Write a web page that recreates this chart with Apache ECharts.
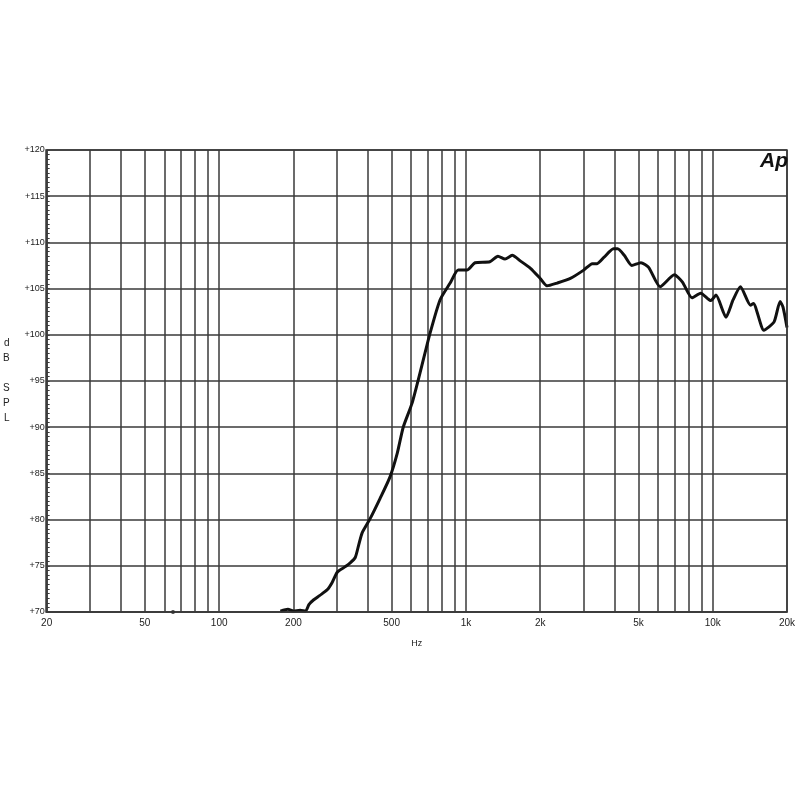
<!DOCTYPE html>
<html>
<head>
<meta charset="utf-8">
<script src="https://cdn.jsdelivr.net/npm/echarts@6/dist/echarts.min.js"></script>
<style>html,body{margin:0;padding:0;background:#fff;}#c{width:800px;height:800px;}</style>
</head>
<body>
<div id="c"></div>
<script>
// Frequency response (Hz -> dB SPL)
const freqHz = [177, 190, 200, 213, 224, 231, 241, 256, 274, 287, 301, 320, 339, 356, 368, 380, 409, 449, 492, 527, 557, 605, 652, 716, 786, 863, 930, 1010, 1089, 1250, 1348, 1440, 1540, 1660, 1826, 2000, 2130, 2340, 2650, 3000, 3250, 3400, 3630, 3960, 4120, 4380, 4700, 5120, 5500, 6120, 6990, 7540, 8240, 8940, 9830, 10310, 11320, 12100, 12950, 14220, 14620, 16120, 17730, 18750, 19270, 20000];
const splDb  = [70.1, 70.3, 70.1, 70.2, 70.1, 70.8, 71.3, 71.8, 72.4, 73.2, 74.3, 74.8, 75.3, 75.9, 77.3, 78.6, 80.1, 82.3, 84.6, 87.2, 90.0, 92.6, 95.9, 100.2, 103.8, 105.6, 107.0, 107.0, 107.8, 107.9, 108.5, 108.2, 108.6, 108.0, 107.2, 106.1, 105.3, 105.6, 106.1, 107.0, 107.7, 107.7, 108.4, 109.3, 109.3, 108.6, 107.5, 107.8, 107.3, 105.2, 106.5, 105.7, 104.0, 104.5, 103.7, 104.3, 101.9, 103.8, 105.2, 103.2, 103.4, 100.5, 101.4, 103.6, 103.0, 100.8];
const strayFreq = [65];
const strayDb = [70];

const gridFreqs = [20, 30, 40, 50, 60, 70, 80, 90, 100, 200, 300, 400, 500, 600, 700, 800, 900, 1000, 2000, 3000, 4000, 5000, 6000, 7000, 8000, 9000, 10000, 20000];
const labelFreqs = [20, 50, 100, 200, 500, 1000, 2000, 5000, 10000, 20000];
const labelTexts = ['20', '50', '100', '200', '500', '1k', '2k', '5k', '10k', '20k'];

const lg = Math.log10;
const lineData = freqHz.map((f, i) => [lg(f), splDb[i]]);
const dotData = strayFreq.map((f, i) => [lg(f), strayDb[i]]);

const chart = echarts.init(document.getElementById('c'), null, {renderer: 'canvas'});
const gridColor = '#3a3a3a';
chart.setOption({
  backgroundColor: '#ffffff',
  animation: false,
  grid: {left: 46, right: 13, top: 150, bottom: 188, containLabel: false},
  xAxis: {
    type: 'value',
    min: lg(20), max: lg(20000),
    name: 'Hz', nameLocation: 'middle', nameGap: 27,
    nameTextStyle: {fontFamily: 'Liberation Sans', fontSize: 9, color: '#222'},
    axisLine: {show: true, lineStyle: {color: gridColor, width: 1.5}},
    axisTick: {show: true, length: 0, customValues: gridFreqs.map(lg)},
    splitLine: {show: true, lineStyle: {color: gridColor, width: 1.5}},
    axisLabel: {
      customValues: labelFreqs.map(lg),
      margin: 6,
      fontFamily: 'Liberation Sans', fontSize: 10, color: '#222',
      formatter: function (v) {
        let best = 0, bd = Infinity;
        labelFreqs.forEach((f, i) => { const d = Math.abs(lg(f) - v); if (d < bd) { bd = d; best = i; } });
        return labelTexts[best];
      }
    }
  },
  yAxis: {
    type: 'value',
    min: 70, max: 120, interval: 5,
    name: 'd\nB\n\nS\nP\nL', nameLocation: 'middle', nameGap: 37, nameRotate: 0,
    nameTextStyle: {fontFamily: 'Liberation Sans', fontSize: 10, color: '#222', lineHeight: 15},
    axisLine: {show: true, lineStyle: {color: gridColor, width: 1.5}},
    axisTick: {show: true, inside: true, length: 3, lineStyle: {color: gridColor}},
    minorTick: {show: true, splitNumber: 10, length: 3, lineStyle: {color: gridColor, width: 1}},
    splitLine: {show: true, lineStyle: {color: gridColor, width: 1.5}},
    axisLabel: {
      margin: 2,
      fontFamily: 'Liberation Sans', fontSize: 9, color: '#222',
      formatter: v => '+' + v
    }
  },
  graphic: [
    {type: 'rect', shape: {x: 46, y: 150, width: 741, height: 462}, style: {fill: 'none', stroke: gridColor, lineWidth: 1.5}, silent: true, z: 10},
    {type: 'text', left: 760, top: 151, style: {text: 'Ap', fontFamily: 'Liberation Sans', fontWeight: 'bold', fontStyle: 'italic', fontSize: 21, fill: '#111'}, z: 20}
  ],
  series: [
    {
      type: 'line', data: lineData, smooth: 0.2, showSymbol: false, clip: true,
      lineStyle: {color: '#111', width: 3}, z: 5
    },
    {
      type: 'scatter', data: dotData, symbolSize: 4, itemStyle: {color: '#111'}, z: 5
    }
  ]
});
</script>
</body>
</html>
